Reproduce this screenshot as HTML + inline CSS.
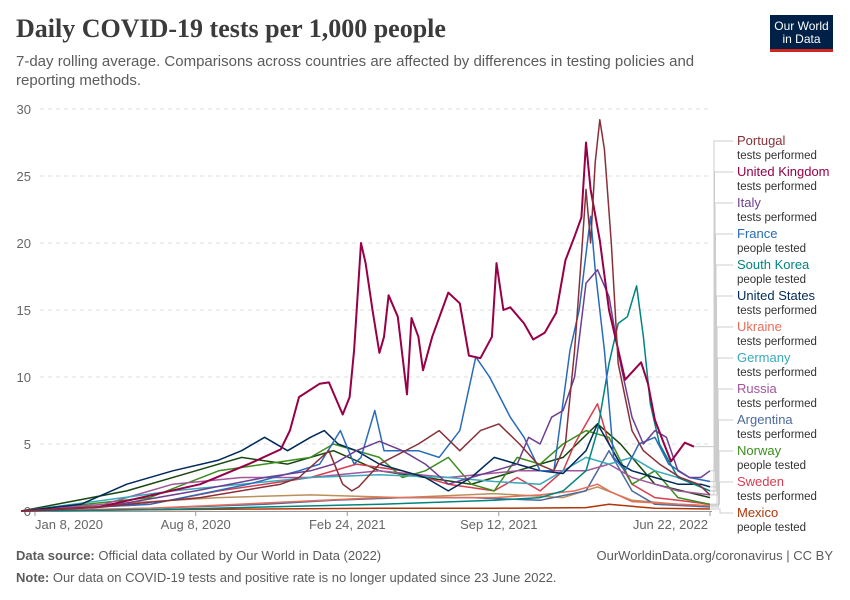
<!DOCTYPE html>
<html><head><meta charset="utf-8"><style>
body{margin:0;background:#fff;font-family:"Liberation Sans",sans-serif;}
#wrap{position:relative;width:850px;height:600px;overflow:hidden;}
.t{position:absolute;white-space:nowrap;}
</style></head><body>
<div id="wrap">
<div class="t" style="left:16px;top:14px;font-family:'Liberation Serif',serif;font-size:26px;font-weight:bold;color:#3b3b3b;">Daily COVID-19 tests per 1,000 people</div>
<div class="t" style="left:16px;top:52px;font-size:15px;color:#5b5b5b;line-height:19px;">7-day rolling average. Comparisons across countries are affected by differences in testing policies and<br>reporting methods.</div>
<div style="position:absolute;left:770px;top:15px;width:63px;height:37px;background:#002147;border-bottom:3px solid #ce261e;color:#fff;font-size:12px;line-height:13px;text-align:center;padding-top:5px;box-sizing:border-box;">Our World<br>in Data</div>
<svg id="chart" width="850" height="600" style="position:absolute;left:0;top:0"></svg>
<div class="t" style="left:16px;top:548px;font-size:13px;color:#5b5b5b;"><b>Data source:</b> Official data collated by Our World in Data (2022)</div>
<div class="t" style="right:17px;top:548px;font-size:13px;color:#5b5b5b;">OurWorldinData.org/coronavirus | CC BY</div>
<div class="t" style="left:16px;top:570px;font-size:13px;color:#5b5b5b;"><b>Note:</b> Our data on COVID-19 tests and positive rate is no longer updated since 23 June 2022.</div>
</div>
<script>
// x unit: months since Jan 8, 2020
const yTicks=[0,5,10,15,20,25,30];
const xTickVals=[0,7,13.6,20.2,29.4];
const xTickLabels=["Jan 8, 2020","Aug 8, 2020","Feb 24, 2021","Sep 12, 2021","Jun 22, 2022"];
const ukDates=[-0.6,2.8,7.2,9.3,10.7,11.1,11.5,12.4,12.8,13.4,13.7,13.9,14.2,14.4,14.7,15.0,15.2,15.4,15.8,16.2,16.4,16.7,16.9,17.3,18.0,18.5,18.9,19.4,19.9,20.1,20.4,20.7,21.3,21.7,22.2,22.7,23.1,23.5,23.8,24.0,24.2,24.6,25.0,25.7,26.4,26.7,27.0,27.4,27.7,28.3,28.7];
const ukVals=[0,0.3,2,3.5,4.6,6,8.5,9.5,9.6,7.2,8.5,12,20,18.5,15,11.8,13,16.1,14.5,8.7,14.4,13,10.5,13,16.3,15.5,11.6,11.4,13,18.5,15,15.2,14,12.8,13.3,14.8,18.7,20.5,21.9,27.5,24,20.2,15,9.8,11.1,9.5,6.8,5,3.7,5.1,4.8];
const ptDates=[-0.6,2.8,7.2,10.7,11.5,12.8,13.4,13.8,14.1,15,16.7,17.6,18.5,19.4,20.2,21.1,21.9,22.6,23.1,23.5,23.8,24.0,24.2,24.4,24.6,24.8,25.1,25.4,26,26.5,27.2,28.1,28.9,29.4];
const ptVals=[0,0.3,1,2,2.5,4.5,2,1.5,1.8,3.5,5,6,4.5,6,6.5,5,3.5,3,5,12,19,24,20,26,29.2,27,20,11,6,4.5,3.5,2.5,2,1.2];
const frDates=[-0.6,5,9.3,11.5,12.4,13.3,13.9,14.2,14.8,15.2,15.9,16.7,17.6,18.5,19.2,19.8,20.7,21.3,22,22.6,23.3,23.7,24.2,24.4,24.8,25.2,25.7,26.3,27,27.6,28.5,29.4];
const frVals=[0,0.5,2,3,3.5,6,3.5,4,7.5,4.5,4.5,4.5,4,6,11.5,10,7,5.5,3,3,12,15,22,18,12,4,3,5,5.5,3.5,2.5,2.2];
const itDates=[-0.6,3,7,10,12,13,14,15,16,17,18,19,20,21,21.5,22,22.5,23,23.5,24,24.5,25,25.5,26,26.5,27,27.5,28,28.5,29,29.4];
const itVals=[0,0.3,1.5,2.5,3,3.5,4.5,5.2,4.5,3.5,2,2.5,3,3.5,5.5,5,7,7.5,10,17,18,16,11,7,5,6,5.5,3,2.5,2.5,3];
const krDates=[-0.6,5,10,15,20,22,23,24,24.5,25,25.4,25.8,26.2,26.5,26.8,27.2,28,29,29.4];
const krVals=[0,0.1,0.3,0.5,0.8,1,1.5,3,6,11,14,14.5,16.8,13,8,5,2.5,1.8,1.5];
const usDates=[-0.6,2,4,6,8,9,10,11,12,12.6,13.2,14,15,16,17,18,19,20,21,22,23,24,24.5,25,25.5,26,27,28,29,29.4];
const usVals=[0,0.5,2,3,3.8,4.5,5.5,4.5,5.5,6,5,4.5,3.5,3,2.5,1.5,2.5,4,3.5,3,2.8,4.5,6.5,5,3.5,3,2.5,2,2,1.8];
const uaDates=[-0.6,5,10,15,20,22,23.5,24.5,25,26,28,29.4];
const uaVals=[0,0.2,0.6,1,1,1.2,1.5,2,1.5,0.7,0.5,0.4];
const deDates=[-0.6,3,6,9,12,15,18,20,22,24,25,26,27,28,29.4];
const deVals=[0,0.8,1.5,2,2.5,2.7,2.5,2.2,2,4,3.5,4,3,2.5,1.5];
const ruDates=[-0.6,3,6,9,12,15,18,21,24,25,26,27,28,29.4];
const ruVals=[0,0.5,2,2.5,2.5,3,2.5,3,3,3.5,2.5,2,1.5,1.2];
const arDates=[-0.6,5,10,13,16,19,22,24,25,25.5,26,27,29.4];
const arVals=[0,0.2,0.5,0.8,1,1,0.8,1.5,4.5,3,1.5,0.5,0.3];
const noDates=[-0.6,5,8,10,12,13,15,16,17,18,19,20,21,22,23,24,25,26,27,28,29.4];
const noVals=[0,1,3,3.5,4,5,4,2.5,3,4,2,1.5,4,3.5,5,6,5.5,2,3,1,0.5];
const seDates=[-0.6,5,8,10,12,14,16,18,20,21,22,23,23.5,24,24.5,25,26,27,28,29.4];
const seVals=[0,0.5,1.5,2,2.5,3.5,3,2,1.5,2.5,1.5,3,5,6.5,8,5,2,1,0.8,0.5];
const mxDates=[-0.6,5,10,15,20,24,25,27,29.4];
const mxVals=[0,0.1,0.15,0.2,0.2,0.25,0.5,0.2,0.15];
const exADates=[-0.6,4,8,12,16,20,23,24.5,26,28,29.4];
const exAVals=[0,0.6,1,1.2,1,1.3,1,1.8,0.8,0.5,0.4];
const exBDates=[-0.6,4,7,9,11,13,15,17,19,21,23,24.5,25.5,27,29.4];
const exBVals=[0,1.5,3,4,3.5,4.5,3,2.5,2,3,4,6.5,5,2,1];

const series=[
 {name:"Portugal",sub:"tests performed",c:"#883039",d:ptDates,v:ptVals,w:1.5},
 {name:"United Kingdom",sub:"tests performed",c:"#970046",d:ukDates,v:ukVals,w:2},
 {name:"Italy",sub:"tests performed",c:"#6D3E91",d:itDates,v:itVals,w:1.5},
 {name:"France",sub:"people tested",c:"#286BBB",d:frDates,v:frVals,w:1.5},
 {name:"South Korea",sub:"people tested",c:"#00847E",d:krDates,v:krVals,w:1.5},
 {name:"United States",sub:"tests performed",c:"#00295B",d:usDates,v:usVals,w:1.5},
 {name:"Ukraine",sub:"tests performed",c:"#E56E5A",d:uaDates,v:uaVals,w:1.5},
 {name:"Germany",sub:"tests performed",c:"#38AABA",d:deDates,v:deVals,w:1.5},
 {name:"Russia",sub:"tests performed",c:"#A2559C",d:ruDates,v:ruVals,w:1.5},
 {name:"Argentina",sub:"tests performed",c:"#4C6A9C",d:arDates,v:arVals,w:1.5},
 {name:"Norway",sub:"people tested",c:"#3B8E1D",d:noDates,v:noVals,w:1.5},
 {name:"Sweden",sub:"tests performed",c:"#D73C50",d:seDates,v:seVals,w:1.5},
 {name:"Mexico",sub:"people tested",c:"#B13507",d:mxDates,v:mxVals,w:1.5}
];
const extras=[{c:"#BC8E5A",d:exADates,v:exAVals},{c:"#18470F",d:exBDates,v:exBVals}];

const NS="http://www.w3.org/2000/svg";
const svg=document.getElementById("chart");
const X=m=>35+m*22.96, Y=v=>511-v*13.4;
function mk(t,a,p){const e=document.createElementNS(NS,t);for(const k in a)e.setAttribute(k,a[k]);(p||svg).appendChild(e);return e;}
yTicks.forEach(t=>{
 if(t>0){const g=mk("line",{x1:40,x2:712,y1:Y(t),y2:Y(t),stroke:"#ddd","stroke-dasharray":"4,4"});
 
 }
 const l=mk("text",{x:31,y:Y(t)+5,"text-anchor":"end","font-size":13,fill:"#666","font-family":"Liberation Sans"});l.textContent=t;
 
 
});
const ax=mk("line",{x1:22,x2:712,y1:511.5,y2:511.5,stroke:"#999"});


xTickVals.forEach((m,i)=>{
 mk("line",{x1:X(m),x2:X(m),y1:511,y2:516,stroke:"#999"});
 const anc=i==0?"start":(i==xTickVals.length-1?"end":"middle");
 const l=mk("text",{x:i==0?X(m):(i==xTickVals.length-1?X(m)-2:X(m)),y:529,"text-anchor":anc,"font-size":13,fill:"#666","font-family":"Liberation Sans"});l.textContent=xTickLabels[i];
 
 
});
function line(s){return s.d.map((m,i)=>(i?"L":"M")+X(m).toFixed(1)+","+Y(s.v[i]).toFixed(1)).join("");}
extras.forEach(s=>{const p=mk("path",{d:line(s),fill:"none",stroke:s.c,"stroke-width":1.5});
 
 });
series.slice().reverse().forEach(s=>{const p=mk("path",{d:line(s),fill:"none",stroke:s.c,"stroke-width":s.w,"stroke-linejoin":"round"});
 
 });
series.forEach((s,i)=>{
 const ly=141+i*31, ye=Y(s.v[s.v.length-1]);
 const cx=714+i*0.5;
 const c=mk("path",{d:`M${X(s.d[s.d.length-1])},${ye}L${cx},${ye}L${cx},${ly-0}L${cx},${ly}L733,${ly}`,fill:"none",stroke:"#ccc","stroke-width":1});
 
 
 const t=mk("text",{x:737,y:ly+4,"font-size":13,fill:s.c,"font-family":"Liberation Sans"});t.textContent=s.name;
 
 
 const u=mk("text",{x:737,y:ly+18,"font-size":11.5,fill:"#333","font-family":"Liberation Sans"});u.textContent=s.sub;
 
 
});
</script>
</body></html>
